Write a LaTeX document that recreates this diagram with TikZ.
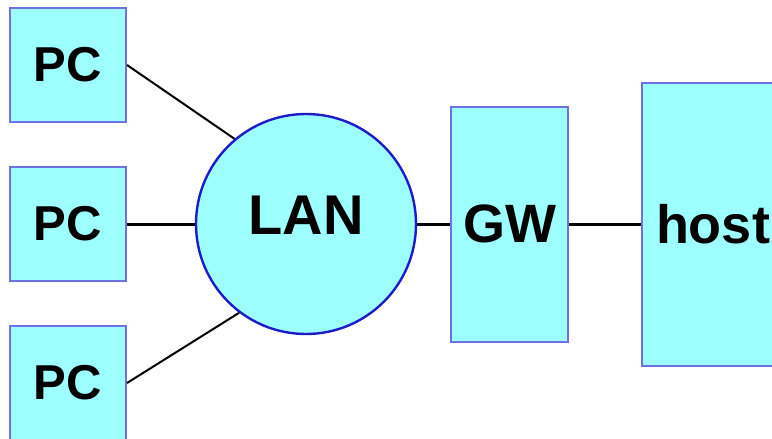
\documentclass[tikz,border=0pt]{standalone}
\usepackage{fontspec}
\setmainfont{Liberation Sans}
\usetikzlibrary{positioning}

\definecolor{boxfill}{RGB}{158,255,255}
\definecolor{boxline}{RGB}{112,112,228}
\definecolor{lanline}{RGB}{28,28,205}

\tikzset{
	pcbox/.style={draw=boxline,fill=boxfill,line width=2pt,minimum width=116pt,minimum height=114pt,font=\fontsize{49}{49}\selectfont\bfseries},
	lancircle/.style={circle,draw=lanline,fill=boxfill,line width=2.4pt,minimum size=220pt,inner sep=0pt},
	bigbox/.style={draw=boxline,fill=boxfill,line width=2pt,font=\fontsize{54}{54}\selectfont\bfseries},
	wire/.style={black,line width=2pt}
}

\begin{document}
\begin{tikzpicture}[x=1pt,y=-1pt]
	\clip (0,0) rectangle (772,439);
	\fill[white] (0,0) rectangle (772,439);

	\foreach \y [count=\n] in {65,224,383}
		\node[pcbox](PC\n) at (68,\y){PC};

	\node[lancircle](LAN) at (306,224){};
	\node[font=\fontsize{56}{56}\selectfont\bfseries](LANtext) at (306,215){LAN};

	\node[bigbox,minimum width=117pt,minimum height=235pt](GW) at (509.5,224){GW};
	\node[bigbox,minimum width=180pt,minimum height=283pt,text width=152pt,inner xsep=14pt,align=left](host) at (732,224){host};

	\draw[wire] (PC1.east) -- (LAN.130);
	\draw[wire,line width=3pt] (PC2.east) -- (LAN.west);
	\draw[wire] (PC3.east) -- (LAN.233);
	\draw[wire,line width=3pt] (LAN.east) -- (GW.west);
	\draw[wire,line width=3pt] (GW.east) -- (host.west);
\end{tikzpicture}
\end{document}
